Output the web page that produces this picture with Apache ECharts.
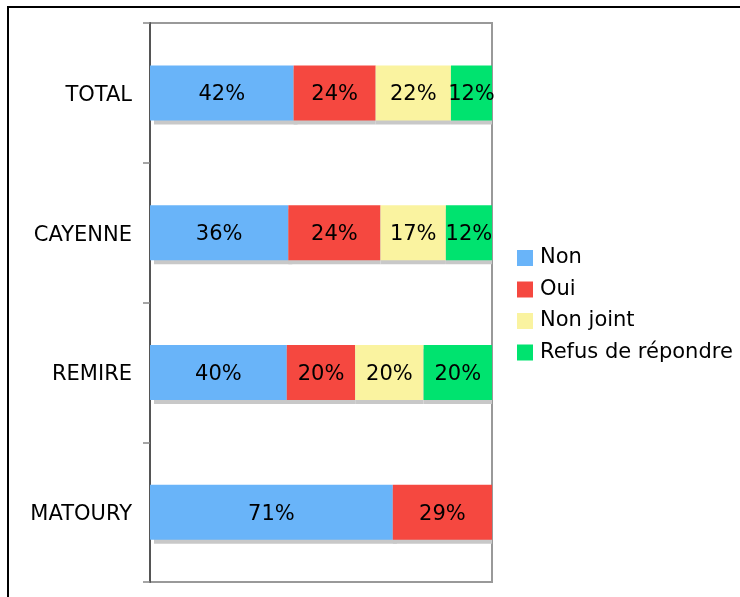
<!DOCTYPE html>
<html><head><meta charset="utf-8">
<script src="https://cdn.jsdelivr.net/npm/echarts@6/dist/echarts.min.js"></script>
<style>html,body{margin:0;padding:0;background:#fff}#c{width:740px;height:597px}</style>
</head><body><div id="c"></div>
<script>
const categories = ['TOTAL', 'CAYENNE', 'REMIRE', 'MATOURY'];
const seriesNames = ['Non', 'Oui', 'Non joint', 'Refus de répondre'];
const nonVals = [42, 36, 40, 71];
const ouiVals = [24, 24, 20, 29];
const nonJointVals = [22, 17, 20, null];
const refusVals = [12, 12, 20, null];
const colors = ['#69B4F9', '#F54840', '#FAF3A0', '#00E36F'];

const raw = [nonVals, ouiVals, nonJointVals, refusVals];
const totals = categories.map((_, i) => raw.reduce((s, a) => s + (a[i] || 0), 0));
const FS = 21;

const chart = echarts.init(document.getElementById('c'));
chart.setOption({
  animation: false,
  textStyle: { fontFamily: 'DejaVu Sans' },
  graphic: [{
    type: 'rect', z: 100,
    shape: { x: 8, y: 7, width: 900, height: 800 },
    style: { fill: 'none', stroke: '#000', lineWidth: 2 }
  }],
  grid: { left: 150, top: 23, width: 342, height: 559, show: true, borderColor: '#999', borderWidth: 2, containLabel: false },
  legend: {
    orient: 'vertical', left: 512, top: 241,
    icon: 'rect',
    itemWidth: 16, itemHeight: 16, itemGap: 7.5,
    textStyle: { fontSize: FS, lineHeight: 21, color: '#000', fontFamily: 'DejaVu Sans', padding: [3, 0, 0, 2] },
    data: seriesNames
  },
  xAxis: { type: 'value', min: 0, max: 100, show: false },
  yAxis: {
    type: 'category', inverse: true, data: categories,
    axisLine: { show: true, lineStyle: { color: '#555', width: 2 } },
    axisTick: { show: true, length: 7, lineStyle: { color: '#888', width: 1.5 } },
    axisLabel: {
      margin: 18,
      formatter: v => '{s|}\n{t|' + v + '}',
      rich: {
        s: { height: 5, lineHeight: 5, fontSize: 1 },
        t: { fontSize: FS, lineHeight: 25, color: '#000', fontFamily: 'DejaVu Sans', align: 'right' }
      }
    }
  },
  series: raw.map((arr, k) => ({
    name: seriesNames[k], type: 'bar', stack: 'all', barWidth: 55,
    itemStyle: { color: colors[k], shadowColor: '#c8c8c8', shadowOffsetX: k === 0 ? 4 : 0, shadowOffsetY: 4, shadowBlur: 0 },
    label: {
      show: true, position: 'inside', color: '#000', fontSize: FS, fontFamily: 'DejaVu Sans',
      offset: [0, 2],
      formatter: p => arr[p.dataIndex] + '%'
    },
    data: arr.map((v, i) => v == null ? null : v / totals[i] * 100)
  }))
});
</script></body></html>
